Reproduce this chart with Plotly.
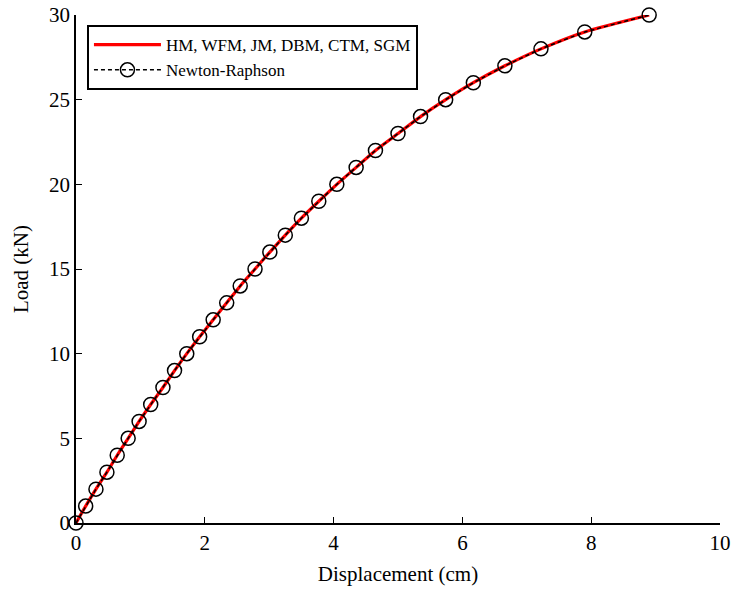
import plotly.graph_objects as go

# Data
load_kn = [0, 1, 2, 3, 4, 5, 6, 7, 8, 9, 10, 11, 12, 13, 14, 15, 16, 17, 18, 19, 20,
           21, 22, 23, 24, 25, 26, 27, 28, 29, 30]
disp_cm = [0, 0.15, 0.31, 0.48, 0.64, 0.81, 0.98, 1.16, 1.35, 1.53, 1.72, 1.92, 2.13,
           2.34, 2.55, 2.78, 3.01, 3.25, 3.50, 3.77, 4.05, 4.35, 4.65, 5.00, 5.35,
           5.74, 6.17, 6.66, 7.22, 7.90, 8.90]

series_names = ["HM, WFM, JM, DBM, CTM, SGM", "Newton-Raphson"]
x_ticks = [0, 2, 4, 6, 8, 10]
y_ticks = [0, 5, 10, 15, 20, 25, 30]

FONT = "Liberation Serif, Times New Roman, serif"

fig = go.Figure()
fig.add_trace(go.Scatter(
    x=disp_cm, y=load_kn, mode="lines", name=series_names[0],
    line=dict(color="#ff0000", width=3.2, shape="spline", smoothing=0.6),
    cliponaxis=False,
))
fig.add_trace(go.Scatter(
    x=disp_cm, y=load_kn, mode="lines+markers", name=series_names[1],
    line=dict(color="black", width=1.5, dash="4px,3px"),
    marker=dict(symbol="circle-open", size=14, color="black", line=dict(width=1.5)),
    cliponaxis=False,
))

axis_common = dict(
    showgrid=False, zeroline=False, showline=True, linecolor="black", linewidth=1.5,
    ticks="inside", ticklen=6, tickwidth=1, tickcolor="black",
    tickfont=dict(family=FONT, size=21, color="black"),
    mirror=False, automargin=False, ticklabeloverflow="allow",
)
fig.update_xaxes(range=[0, 10], tickvals=x_ticks,
                 title=dict(text="Displacement (cm)", font=dict(family=FONT, size=21, color="black"), standoff=12),
                 **axis_common)
fig.update_yaxes(range=[0, 30], tickvals=y_ticks,
                 title=dict(text="Load (kN)", font=dict(family=FONT, size=21, color="black"), standoff=15),
                 **axis_common)

fig.update_layout(
    width=735, height=590,
    margin=dict(l=76, r=15, t=15, b=67),
    plot_bgcolor="white", paper_bgcolor="white",
    font=dict(family=FONT, color="black"),
    legend=dict(x=0.017, y=0.98, xanchor="left", yanchor="top",
                bgcolor="white", bordercolor="black", borderwidth=2,
                font=dict(family=FONT, size=17, color="black"),
                itemwidth=67, tracegroupgap=0),
)

fig.write_html("out.html")
